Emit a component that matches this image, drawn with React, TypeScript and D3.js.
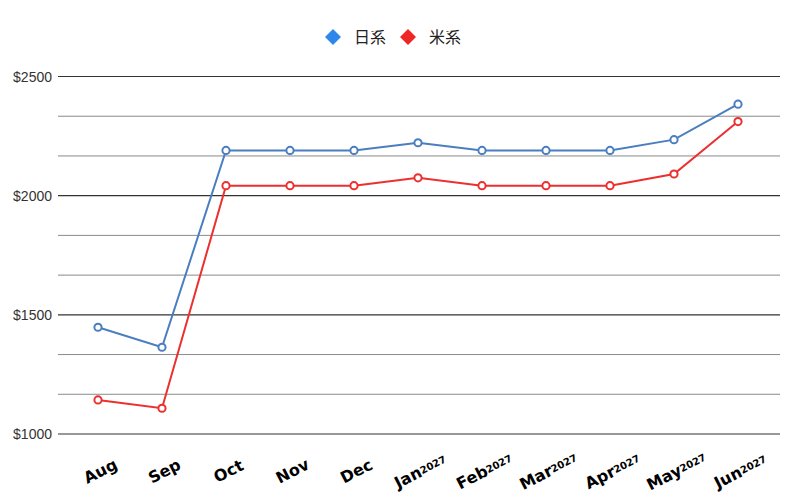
import React from 'react';
import * as d3 from 'd3';

const months = ['Aug', 'Sep', 'Oct', 'Nov', 'Dec', 'Jan', 'Feb', 'Mar', 'Apr', 'May', 'Jun'];
const yearTags = ['', '', '', '', '', '2027', '2027', '2027', '2027', '2027', '2027'];
const japanese = [1448, 1364, 2190, 2190, 2190, 2222, 2190, 2190, 2190, 2235, 2384];
const american = [1143, 1108, 2042, 2042, 2042, 2075, 2042, 2042, 2042, 2091, 2311];
const majorTicks = [1000, 1500, 2000, 2500];
const minorTicks = [1000 + 500 / 3, 1000 + 1000 / 3, 1500 + 500 / 3, 1500 + 1000 / 3, 2000 + 500 / 3, 2000 + 1000 / 3];

const series = [
  { name: '日系', values: japanese, line: '#4a7ebf', key: '#2f86eb' },
  { name: '米系', values: american, line: '#ec2f2f', key: '#ee2626' },
];

const width = 800;
const height = 500;
const left = 58;
const right = 780;

const App: React.FC = () => {
  const x = d3.scalePoint<string>().domain(months).range([98, 738]);
  const y = d3.scaleLinear().domain([1000, 2500]).range([434, 76.5]);

  const line = d3
    .line<number>()
    .x((_, i) => x(months[i])!)
    .y((d) => y(d));

  return (
    <svg width={width} height={height} style={{ position: 'absolute', left: 0, top: 0 }}>
      <rect width={width} height={height} fill="#fff" />

      {/* legend */}
      <g fontFamily="'Noto Sans CJK JP', 'Noto Sans', sans-serif" fontSize={16} fill="#222">
        {series.map((s, i) => {
          const cx = 333 + i * 75;
          return (
            <g key={s.name}>
              <path d={`M${cx},29 L${cx + 8},37 L${cx},45 L${cx - 8},37 Z`} fill={s.key} />
              <text x={cx + 21} y={42.5}>{s.name}</text>
            </g>
          );
        })}
      </g>

      {/* grid */}
      {minorTicks.map((t) => (
        <line key={'m' + t} x1={left} x2={right} y1={y(t)} y2={y(t)} stroke="#8a8a8a" strokeWidth={1} />
      ))}
      {majorTicks.map((t) => (
        <line key={'M' + t} x1={left} x2={right} y1={y(t)} y2={y(t)} stroke="#333" strokeWidth={1.1} />
      ))}

      {/* y labels */}
      <g fontFamily="'Liberation Sans', Arial, sans-serif" fontSize={14} fill="#333" textAnchor="end">
        {majorTicks.map((t) => (
          <text key={t} x={52} y={y(t) + 5}>
            ${t}
          </text>
        ))}
      </g>

      {/* x labels */}
      <g fontFamily="'DejaVu Sans', Verdana, sans-serif" fontWeight="bold" fontSize={16} fill="#000">
        {months.map((m, i) => (
          <text
            key={m}
            textAnchor="middle"
            transform={`translate(${x(m)! + 5},${476}) rotate(-27)`}
          >
            {m}
            {yearTags[i] && (
              <tspan fontSize={10} dy={-2}>
                {yearTags[i]}
              </tspan>
            )}
          </text>
        ))}
      </g>

      {/* series */}
      {series.map((s) => (
        <g key={s.name}>
          <path d={line(s.values)!} fill="none" stroke={s.line} strokeWidth={2} />
          {s.values.map((v, i) => (
            <circle
              key={i}
              cx={x(months[i])}
              cy={y(v)}
              r={3.6}
              fill="#fff"
              stroke={s.line}
              strokeWidth={2}
            />
          ))}
        </g>
      ))}
    </svg>
  );
};

export default App;
